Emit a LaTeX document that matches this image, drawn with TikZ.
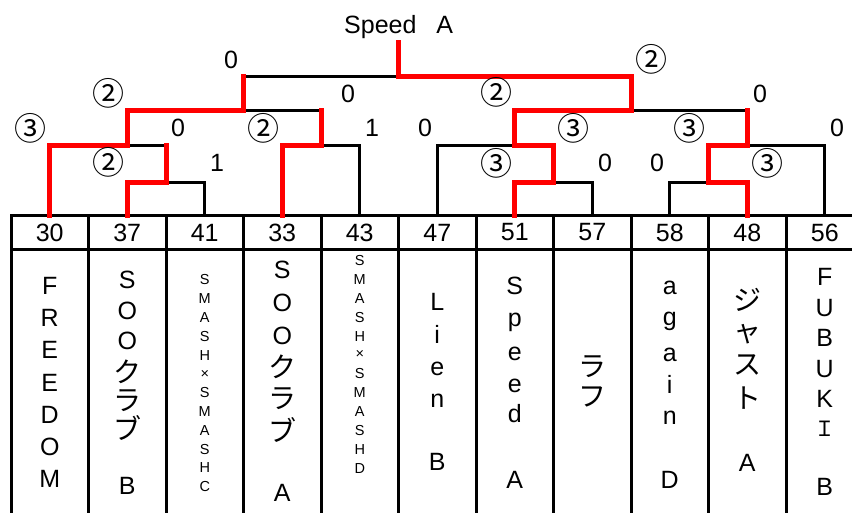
\documentclass[tikz,border=0pt]{standalone}
\usepackage{fontspec}
\setmainfont{Liberation Sans}
\newfontfamily\jp{Noto Sans CJK JP}
\begin{document}
\begin{tikzpicture}[x=1pt,y=-1pt,
  tbl/.style={line width=3pt,black,line cap=rect},
  brk/.style={line width=3pt,black,line join=miter},
  win/.style={line width=5pt,red,line join=miter,line cap=rect},
  lbl/.style={inner sep=0pt,font=\fontsize{25}{30}\selectfont},
  circ/.style={inner sep=0pt,font=\jp\fontsize{32}{36}\selectfont},
  big/.style={inner sep=0pt,font=\fontsize{25}{30}\selectfont},
  bigjp/.style={inner sep=0pt,font=\jp\fontsize{28}{32}\selectfont},
  small/.style={inner sep=0pt,font=\fontsize{14.5}{17}\selectfont}]
\useasboundingbox (0,0) rectangle (852,512);

% table
\foreach \k in {0,...,10} \draw[tbl] ({11+77.5*\k},215) -- ({11+77.5*\k},512);
\draw[tbl] (11,215) -- (852,215);
\draw[tbl] (11,249) -- (852,249);

% seed numbers
\foreach \n [count=\k from 0] in {30,37,41,33,43,47,51,57,58,48,56}
  \node[lbl] (num\k) at ({49.75+77.5*\k},232.5) {\n};

% leaves and junctions
\foreach \k in {1,...,11} \coordinate (t\k) at ({49.75+77.5*(\k-1)},215);
\coordinate (a1) at (166.5,182);
\coordinate (b1) at (127.25,145);
\coordinate (b2) at (321,145);
\coordinate (c1) at (243.5,110);
\coordinate (a2) at (553.5,182);
\coordinate (b3) at (514.75,145);
\coordinate (a3) at (708.5,182);
\coordinate (b4) at (747.25,145);
\coordinate (c2) at (631,110);
\coordinate (d) at (398.5,76);
\coordinate (top) at (398.5,42.5);

% bracket (black)
\draw[brk] (t2) |- (a1) -| (t3);
\draw[brk] (t1) |- (b1) -| (a1);
\draw[brk] (t4) |- (b2) -| (t5);
\draw[brk] (b1) |- (c1) -| (b2);
\draw[brk] (c1) |- (d) -| (c2);
\draw[brk] (t7) |- (a2) -| (t8);
\draw[brk] (t6) |- (b3) -| (a2);
\draw[brk] (t9) |- (a3) -| (t10);
\draw[brk] (a3) |- (b4) -| (t11);
\draw[brk] (b3) |- (c2) -| (b4);

% winners (red)
\draw[win] (t2) |- (a1) -- (a1 |- b1);
\draw[win] (t1) |- (b1) |- (c1) -- (c1 |- d);
\draw[win] (t4) |- (b2) -- (b2 |- c1);
\draw[win] (t7) |- (a2) |- (b3) |- (c2) |- (d) -- (top);
\draw[win] (t10) |- (a3) |- (b4) -- (b4 |- c2);

% title
\node[lbl,anchor=base west] (title) at (344,33) {Speed\hspace{20pt}A};

% scores
\node[lbl] (s1) at (231,60) {0};
\node[circ] (s2) at (108,93) {②};
\node[lbl] (s3) at (348,94) {0};
\node[circ] (s4) at (30,128) {③};
\node[lbl] (s5) at (178,128) {0};
\node[circ] (s6) at (263,128) {②};
\node[lbl] (s7) at (372,128) {1};
\node[lbl] (s8) at (425,128) {0};
\node[circ] (s9) at (108,162) {②};
\node[lbl] (s10) at (217,163) {1};
\node[circ] (s11) at (651,59) {②};
\node[circ] (s12) at (496,92) {②};
\node[lbl] (s13) at (760,94) {0};
\node[circ] (s14) at (573,128) {③};
\node[circ] (s15) at (689,128) {③};
\node[lbl] (s16) at (837,128) {0};
\node[circ] (s17) at (496,163) {③};
\node[lbl] (s18) at (605,163) {0};
\node[lbl] (s19) at (657,163) {0};
\node[circ] (s20) at (767,163) {③};

% team names
\foreach \ch/\yy [count=\i] in {F/285.5,R/317.8,E/350.1,E/382.4,D/414.7,O/447,M/479.3}
  \node[big] (n1-\i) at (49.75,\yy) {\ch};
\foreach \ch/\yy [count=\i] in {S/279.4,O/310.5,O/341}
  \node[big] (n2-\i) at (127.25,\yy) {\ch};
\foreach \ch/\yy [count=\i] in {ク/371.7,ラ/400.3,ブ/428.3}
  \node[bigjp] (n2j-\i) at (127.25,\yy) {\ch};
\node[big] (n2-B) at (127.25,485.7) {B};
\foreach \ch [count=\i from 0] in {S,M,A,S,H,×,S,M,A,S,H,C}
  \node[small] (n3-\i) at (204.75,{280+18.8*\i}) {\ch};
\foreach \ch/\yy [count=\i] in {S/270,O/303,O/335.5}
  \node[big] (n4-\i) at (282.25,\yy) {\ch};
\foreach \ch/\yy [count=\i] in {ク/367,ラ/398.3,ブ/429.5}
  \node[bigjp] (n4j-\i) at (282.25,\yy) {\ch};
\node[big] (n4-A) at (282.25,493.3) {A};
\foreach \ch [count=\i from 0] in {S,M,A,S,H,×,S,M,A,S,H,D}
  \node[small] (n5-\i) at (359.75,{260.7+18.85*\i}) {\ch};
\foreach \ch/\yy [count=\i] in {L/302.3,i/334.5,e/369,n/400.7,B/462.3}
  \node[big] (n6-\i) at (437.25,\yy) {\ch};
\foreach \ch/\yy [count=\i] in {S/285.7,p/322.3,e/354,e/385.7,d/414,A/480}
  \node[big] (n7-\i) at (514.75,\yy) {\ch};
\foreach \ch/\yy [count=\i] in {ラ/366.7,フ/397.3}
  \node[bigjp] (n8-\i) at (592.25,\yy) {\ch};
\foreach \ch/\yy [count=\i] in {a/288.3,g/321.7,a/355,i/384,n/417.3,D/480}
  \node[big] (n9-\i) at (669.75,\yy) {\ch};
\foreach \ch/\yy [count=\i] in {ジ/300,ャ/334,ス/365,ト/398.3}
  \node[bigjp] (n10-\i) at (747.25,\yy) {\ch};
\node[big] (n10-A) at (747.25,463.3) {A};
\foreach \ch/\yy [count=\i] in {F/277.3,U/308.3,B/338.3,U/369.5,K/399}
  \node[big] (n11-\i) at (824.75,\yy) {\ch};
\node[inner sep=0pt,font=\jp\fontsize{21}{25}\selectfont] (n11-I) at (824.75,429) {Ｉ};
\node[big] (n11-B) at (824.75,486.7) {B};
\end{tikzpicture}
\end{document}
